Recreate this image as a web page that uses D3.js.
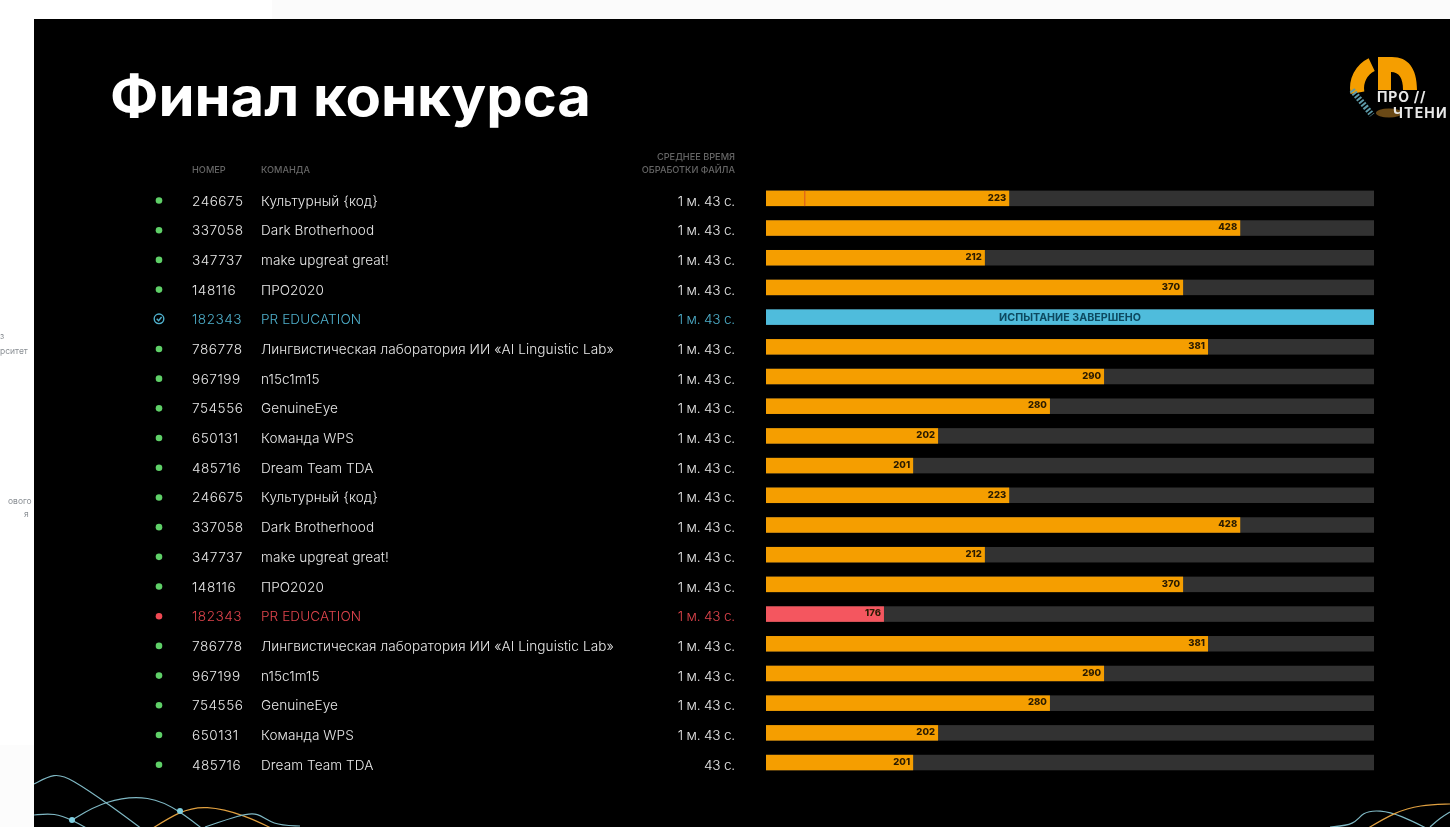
<!DOCTYPE html>
<html lang="ru"><head><meta charset="utf-8">
<script src="https://d3js.org/d3.v7.min.js"></script>
<style>
html,body{margin:0;padding:0;background:#fff;overflow:hidden}
svg{display:block}
text{font-family:Inter,"Noto Sans",sans-serif}
</style></head><body>
<svg id="c" width="1450" height="827"></svg>
<script>
const numbers=["246675","337058","347737","148116","182343","786778","967199","754556","650131","485716","246675","337058","347737","148116","182343","786778","967199","754556","650131","485716"];
const teams=["Культурный {код}","Dark Brotherhood","make upgreat great!","ПРО2020","PR EDUCATION","Лингвистическая лаборатория ИИ «AI Linguistic Lab»","n15c1m15","GenuineEye","Команда WPS","Dream Team TDA","Культурный {код}","Dark Brotherhood","make upgreat great!","ПРО2020","PR EDUCATION","Лингвистическая лаборатория ИИ «AI Linguistic Lab»","n15c1m15","GenuineEye","Команда WPS","Dream Team TDA"];
const times=["1 м. 43 с.","1 м. 43 с.","1 м. 43 с.","1 м. 43 с.","1 м. 43 с.","1 м. 43 с.","1 м. 43 с.","1 м. 43 с.","1 м. 43 с.","1 м. 43 с.","1 м. 43 с.","1 м. 43 с.","1 м. 43 с.","1 м. 43 с.","1 м. 43 с.","1 м. 43 с.","1 м. 43 с.","1 м. 43 с.","1 м. 43 с.","43 с."];
const scores=[223,428,212,370,null,381,290,280,202,201,223,428,212,370,176,381,290,280,202,201];
const progress=[40,78,36,68.6,100,72.7,55.6,46.7,28.3,24.2,40,78,36,68.6,19.4,72.7,55.6,46.7,28.3,24.2];
const statuses=["run","run","run","run","done","run","run","run","run","run","run","run","run","run","fail","run","run","run","run","run"];
const doneLabel="ИСПЫТАНИЕ ЗАВЕРШЕНО";
const colors={run:"#f59e00",done:"#4fbcdc",fail:"#f4575f"};
const textColors={run:"#e8e8e8",done:"#4fb0cc",fail:"#e0444c"};
const dotColors={run:"#5fd068",done:"#4fb0cc",fail:"#f04a52"};

const svg=d3.select("#c");
const defs=svg.append("defs");
defs.append("filter").attr("id","soft").append("feGaussianBlur").attr("stdDeviation",0.55);
defs.append("clipPath").attr("id","panel").append("rect").attr("x",34).attr("y",19).attr("width",1416).attr("height",808);

// page behind the slide
svg.append("rect").attr("width",1450).attr("height",827).attr("fill","#fff");
svg.append("rect").attr("x",272).attr("width",1178).attr("height",19).attr("fill","#fbfbfb");
svg.append("rect").attr("y",745).attr("width",34).attr("height",82).attr("fill","#fcfcfc");
svg.append("rect").attr("x",34).attr("y",19).attr("width",1416).attr("height",808).attr("fill","#000");

const bg=svg.append("g").attr("filter","url(#soft)");
[["рситет",0,354],["ового",8,504],["я",24,517],["з",0,339]].forEach(d=>bg.append("text").attr("x",d[1]).attr("y",d[2]).attr("font-size",8.5).attr("fill","#8a8f94").text(d[0]));

const y=d3.scalePoint().domain(d3.range(numbers.length)).range([200.5,764.7]);
const x=d3.scaleLinear().domain([0,100]).range([766,1374]);
const barH=15.5;
const root=svg.append("g").attr("filter","url(#soft)");

root.append("text").attr("x",110).attr("y",116).attr("font-size",55).attr("font-weight",700).attr("fill","#fff")
  .attr("textLength",481).attr("lengthAdjust","spacingAndGlyphs").text("Финал конкурса");

const hdr=root.append("g").attr("font-size",9.2).attr("fill","#666").attr("font-weight",500);
hdr.append("text").attr("x",192).attr("y",173).text("НОМЕР");
hdr.append("text").attr("x",261).attr("y",173).text("КОМАНДА");
hdr.append("text").attr("x",735).attr("y",160).attr("text-anchor","end").text("СРЕДНЕЕ ВРЕМЯ");
hdr.append("text").attr("x",735).attr("y",173).attr("text-anchor","end").text("ОБРАБОТКИ ФАЙЛА");

const rows=root.selectAll("g.row").data(d3.range(numbers.length)).join("g").attr("class","row");
rows.each(function(i){
  const g=d3.select(this), st=statuses[i], cy=y(i), tc=textColors[st];
  if(st==="done"){
    const ic=g.append("g").attr("transform",`translate(159,${cy-0.5})`).attr("fill","none").attr("stroke",dotColors[st]).attr("stroke-width",1.4);
    ic.append("circle").attr("r",4.8);
    ic.append("path").attr("d",d3.line()([[-2.3,0],[-0.4,2],[2.6,-1.8]]));
  } else {
    g.append("circle").attr("cx",159).attr("cy",cy).attr("r",3.3).attr("fill",dotColors[st]);
  }
  const t=(xp,s,anchor,ls)=>g.append("text").attr("x",xp).attr("y",cy+5).attr("font-size",13.6).attr("font-weight",300).attr("fill",tc).attr("letter-spacing",ls).attr("text-anchor",anchor||"start").text(s);
  t(192,numbers[i],"start",0.5);
  t(261,teams[i],"start",0.07);
  t(735,times[i],"end",-0.2);
  const by=cy-9.9;
  g.append("rect").attr("x",x(0)).attr("y",by).attr("width",x(100)-x(0)).attr("height",barH).attr("fill","#333");
  g.append("rect").attr("x",x(0)).attr("y",by).attr("width",x(progress[i])-x(0)).attr("height",barH).attr("fill",colors[st]);
  if(scores[i]!==null){
    g.append("text").attr("x",x(progress[i])-3).attr("y",by+10).attr("text-anchor","end").attr("font-size",9.5).attr("font-weight",800).attr("fill","#2a1a05").text(scores[i]);
  } else {
    g.append("text").attr("x",(x(0)+x(100))/2).attr("y",by+11.5).attr("text-anchor","middle").attr("font-size",10.7).attr("font-weight",700).attr("fill","#0d4a60").text(doneLabel);
  }
});
// thin marker inside the first bar
root.append("rect").attr("x",x(6.3)).attr("y",y(0)-9.9).attr("width",1).attr("height",barH).attr("fill","#d9531a");

// decorative curves
const curve=d3.line().curve(d3.curveBasis);
const deco=svg.append("g").attr("clip-path","url(#panel)").attr("fill","none").attr("stroke-width",1.2).attr("filter","url(#soft)");
const wavesLeft=[
 {c:"#7fb8c4",p:[[34,784],[55,773],[70,778],[110,805],[150,835]]},
 {c:"#7fb8c4",p:[[34,815],[55,813],[72,820],[90,830]]},
 {c:"#7fb8c4",p:[[72,820],[105,800],[150,795],[180,811],[210,835]]},
 {c:"#e0a040",p:[[150,830],[180,811],[205,805],[245,815],[275,830]]},
 {c:"#7fb8c4",p:[[205,827],[240,815],[258,812],[272,825],[300,826]]}
];
const wavesRight=[
 {c:"#7fb8c4",p:[[1330,827],[1355,825],[1362,812],[1380,810],[1400,815],[1430,830]]},
 {c:"#e0a040",p:[[1365,830],[1395,812],[1420,805],[1450,804]]},
 {c:"#7fb8c4",p:[[1430,827],[1440,818],[1450,812]]}
];
wavesLeft.concat(wavesRight).forEach(w=>deco.append("path").attr("d",curve(w.p)).attr("stroke",w.c));
[[72,820],[180,811]].forEach(p=>deco.append("circle").attr("cx",p[0]).attr("cy",p[1]).attr("r",3).attr("fill","#7fcfe0").attr("stroke","none"));

// logo
const logo=svg.append("g").attr("filter","url(#soft)");
const arc=d3.arc();
logo.append("path").attr("transform","translate(1383,88)")
  .attr("d",arc({innerRadius:19,outerRadius:33,startAngle:-1.75,endAngle:-0.45})).attr("fill","#f59e00");
logo.append("path").attr("fill","#f59e00")
  .attr("d","M1378 90V57H1392C1408 57 1417 68 1417 90H1403C1403 78 1399 72 1391 72V90Z");
logo.append("path").attr("d",curve([[1352,90],[1360,100],[1372,115]])).attr("stroke","#5d9aa8").attr("stroke-width",6).attr("stroke-dasharray","2 1.5").attr("fill","none");
logo.append("ellipse").attr("cx",1389).attr("cy",113).attr("rx",13).attr("ry",4.5).attr("fill","#6b4a16");
logo.append("text").attr("x",1377).attr("y",102).attr("font-size",14).attr("font-weight",700).attr("letter-spacing",0.8).attr("fill","#e8e8e8").text("ПРО //");
logo.append("text").attr("x",1393).attr("y",118).attr("font-size",14).attr("font-weight",700).attr("letter-spacing",1.2).attr("fill","#e8e8e8").text("ЧТЕНИ");
</script>
</body></html>
